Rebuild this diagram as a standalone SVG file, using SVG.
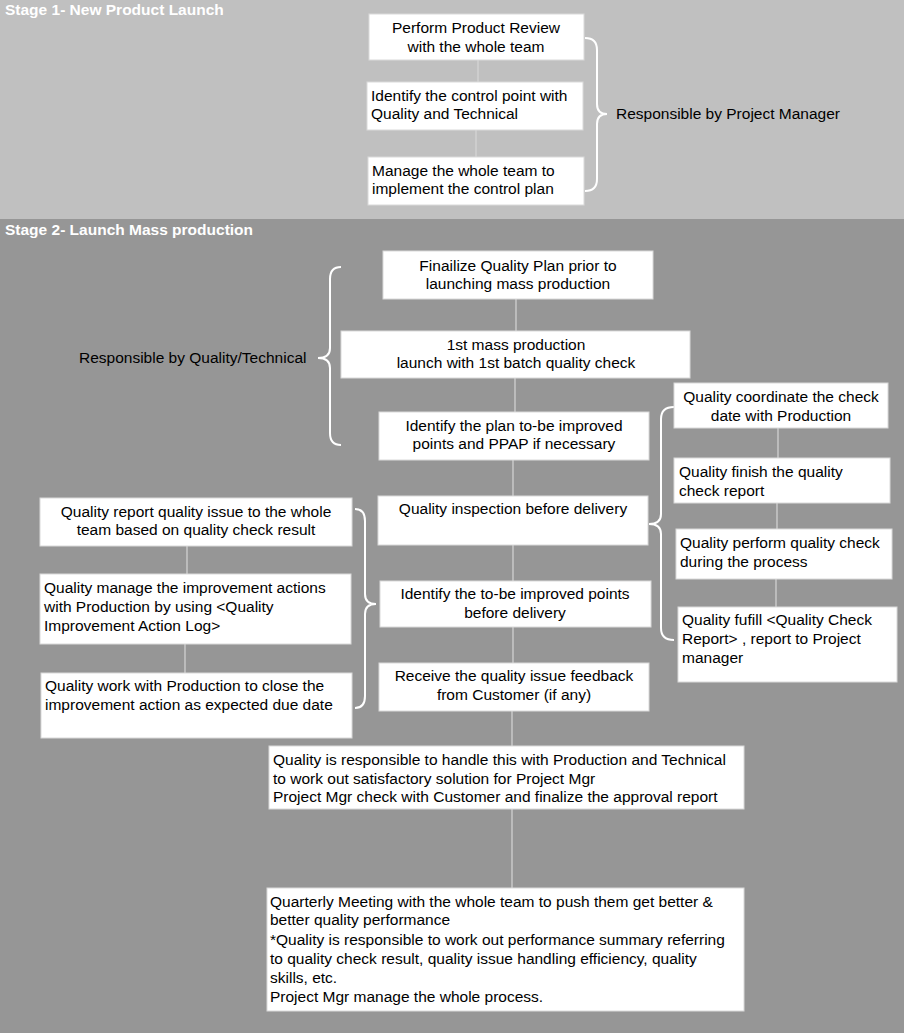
<svg xmlns="http://www.w3.org/2000/svg" width="904" height="1033" viewBox="0 0 904 1033">
<style>
  text { font-family: "Liberation Sans", Arial, sans-serif; font-size: 15.5px; fill: #000; }
  .title { font-weight: bold; fill: #fff; }
  .c { text-anchor: middle; }
  .box { fill: #fff; stroke: #d9d9d9; stroke-width: 1; }
  .conn { stroke: #d6d6d6; stroke-width: 1.2; fill: none; }
  .brace { stroke: #fff; stroke-width: 2; fill: none; }
</style>
<g id="stage1">
  <rect x="0" y="0" width="904" height="219" fill="#c0c0c0"/>
  <text class="title" x="5" y="15">Stage 1- New Product Launch</text>
</g>
<g id="stage2">
  <rect x="0" y="219" width="904" height="814" fill="#969696"/>
  <text class="title" x="5" y="235">Stage 2- Launch Mass production</text>
</g>
<g id="connectors">
  <line class="conn" x1="478" y1="60" x2="478" y2="82"/>
  <line class="conn" x1="476" y1="130" x2="476" y2="157"/>
  <line class="conn" x1="516" y1="299" x2="516" y2="331"/>
  <line class="conn" x1="515" y1="378" x2="515" y2="412"/>
  <line class="conn" x1="513" y1="460" x2="513" y2="496"/>
  <line class="conn" x1="513" y1="545" x2="513" y2="581"/>
  <line class="conn" x1="513" y1="627" x2="513" y2="663"/>
  <line class="conn" x1="512" y1="711" x2="512" y2="746"/>
  <line class="conn" x1="512" y1="809" x2="512" y2="888"/>
  <line class="conn" x1="778" y1="428" x2="778" y2="458"/>
  <line class="conn" x1="777" y1="503" x2="777" y2="529"/>
  <line class="conn" x1="776" y1="579" x2="776" y2="607"/>
  <line class="conn" x1="187" y1="546" x2="187" y2="574"/>
  <line class="conn" x1="185" y1="644" x2="185" y2="673"/>
  <path class="brace" d="M585,38 Q597,38 597,50 L597,104 Q597,114 607,114 Q597,114 597,124 L597,179 Q597,191 585,191"/>
  <path class="brace" d="M341,267 Q330,267 330,279 L330,348 Q330,358 318,358 Q330,358 330,368 L330,433 Q330,445 341,445"/>
  <path class="brace" d="M674,407 Q661,407 661,419 L661,514 Q661,524 649,524 Q661,524 661,534 L661,628 Q661,640 674,640"/>
  <path class="brace" d="M355,509 Q365,509 365,521 L365,594 Q365,604 376,604 Q365,604 365,614 L365,696 Q365,708 355,708"/>
</g>
<g id="n-review">
  <rect class="box" x="369" y="14" width="215" height="46"/>
  <text class="c" x="476" y="33">Perform Product Review</text>
  <text class="c" x="476" y="52">with the whole team</text>
</g>
<g id="n-control">
  <rect class="box" x="367" y="82" width="216" height="48"/>
  <text x="371" y="101">Identify the control point with</text>
  <text x="371" y="119">Quality and Technical</text>
</g>
<g id="n-manage-team">
  <rect class="box" x="368" y="157" width="216" height="48"/>
  <text x="372" y="176">Manage the whole team to</text>
  <text x="372" y="194">implement the control plan</text>
</g>
<g id="n-pm-label">
  <text x="616" y="119">Responsible by Project Manager</text>
</g>
<g id="n-finalize">
  <rect class="box" x="383" y="251" width="270" height="48"/>
  <text class="c" x="518" y="271">Finailize Quality Plan prior to</text>
  <text class="c" x="518" y="289">launching mass production</text>
</g>
<g id="n-first-mass">
  <rect class="box" x="341" y="331" width="349" height="47"/>
  <text class="c" x="516" y="350">1st mass production</text>
  <text class="c" x="516" y="368">launch with 1st batch quality check</text>
</g>
<g id="n-qt-label">
  <text x="79" y="363">Responsible by Quality/Technical</text>
</g>
<g id="n-identify-plan">
  <rect class="box" x="379" y="412" width="270" height="48"/>
  <text class="c" x="514" y="431">Identify the plan to-be improved</text>
  <text class="c" x="514" y="449">points and PPAP if necessary</text>
</g>
<g id="n-inspection">
  <rect class="box" x="378" y="496" width="270" height="49"/>
  <text class="c" x="513" y="514">Quality inspection before delivery</text>
</g>
<g id="n-identify-points">
  <rect class="box" x="380" y="581" width="271" height="46"/>
  <text class="c" x="515" y="599">Identify the to-be improved points</text>
  <text class="c" x="515" y="618">before delivery</text>
</g>
<g id="n-receive">
  <rect class="box" x="379" y="663" width="270" height="48"/>
  <text class="c" x="514" y="681">Receive the quality issue feedback</text>
  <text class="c" x="514" y="700">from Customer (if any)</text>
</g>
<g id="n-coordinate">
  <rect class="box" x="674" y="383" width="214" height="45"/>
  <text class="c" x="781" y="402">Quality coordinate the check</text>
  <text class="c" x="781" y="421">date with Production</text>
</g>
<g id="n-finish">
  <rect class="box" x="674" y="458" width="216" height="45"/>
  <text x="679" y="477">Quality finish the quality</text>
  <text x="679" y="496">check report</text>
</g>
<g id="n-perform">
  <rect class="box" x="676" y="529" width="216" height="50"/>
  <text x="680" y="548">Quality perform quality check</text>
  <text x="680" y="567">during the process</text>
</g>
<g id="n-fulfill">
  <rect class="box" x="678" y="607" width="219" height="75"/>
  <text x="682" y="625">Quality fufill &lt;Quality Check</text>
  <text x="682" y="644">Report&gt; , report to Project</text>
  <text x="682" y="663">manager</text>
</g>
<g id="n-report">
  <rect class="box" x="40" y="498" width="312" height="48"/>
  <text class="c" x="196" y="517">Quality report quality issue to the whole</text>
  <text class="c" x="196" y="535">team based on quality check result</text>
</g>
<g id="n-manage-actions">
  <rect class="box" x="40" y="574" width="311" height="70"/>
  <text x="44" y="593">Quality manage the improvement actions</text>
  <text x="44" y="612">with Production by using &lt;Quality</text>
  <text x="44" y="631">Improvement Action Log&gt;</text>
</g>
<g id="n-close">
  <rect class="box" x="41" y="673" width="311" height="65"/>
  <text x="45" y="691">Quality work with Production to close the</text>
  <text x="45" y="710">improvement action as expected due date</text>
</g>
<g id="n-handle">
  <rect class="box" x="269" y="746" width="475" height="63"/>
  <text x="273" y="765">Quality is responsible to handle this with Production and Technical</text>
  <text x="273" y="784">to work out satisfactory solution for Project Mgr</text>
  <text x="273" y="802">Project Mgr check with Customer and finalize the approval report</text>
</g>
<g id="n-quarterly">
  <rect class="box" x="267" y="888" width="477" height="123"/>
  <text x="270" y="907">Quarterly Meeting with the whole team to push them get better &amp;</text>
  <text x="270" y="925">better quality performance</text>
  <text x="270" y="945">*Quality is responsible to work out performance summary referring</text>
  <text x="270" y="964">to quality check result, quality issue handling efficiency, quality</text>
  <text x="270" y="983">skills, etc.</text>
  <text x="270" y="1002">Project Mgr manage the whole process.</text>
</g>
</svg>
